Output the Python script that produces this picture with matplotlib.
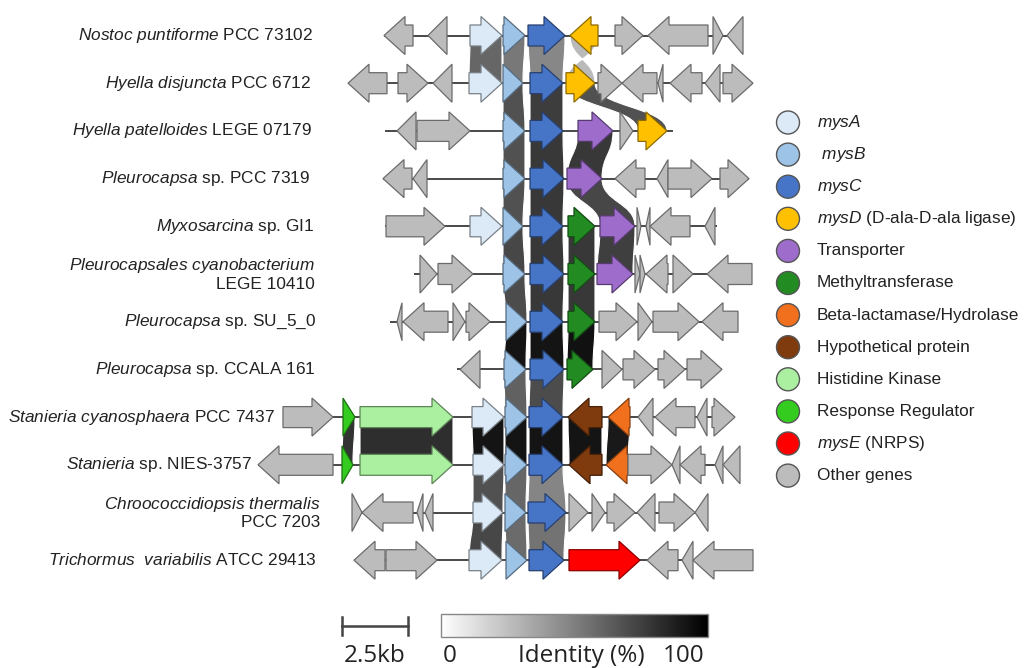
import numpy as np
import matplotlib
matplotlib.use("Agg")
import matplotlib.pyplot as plt
from matplotlib.patches import Polygon, PathPatch, Circle, Rectangle
from matplotlib.path import Path
from matplotlib.colors import LinearSegmentedColormap, to_rgb

plt.rcParams['font.family'] = ['Liberation Sans', 'DejaVu Sans']
plt.rcParams['mathtext.fontset'] = 'custom'
plt.rcParams['mathtext.rm'] = 'Liberation Sans'
plt.rcParams['mathtext.it'] = 'Liberation Sans:italic'

# species names (italic part in mathtext)
species = [
    r"$\mathit{Nostoc\ puntiforme}$ PCC 73102",
    r"$\mathit{Hyella\ disjuncta}$ PCC 6712",
    r"$\mathit{Hyella\ patelloides}$ LEGE 07179",
    r"$\mathit{Pleurocapsa}$ sp. PCC 7319",
    r"$\mathit{Myxosarcina}$ sp. GI1",
    r"$\mathit{Pleurocapsales\ cyanobacterium}$" + "\nLEGE 10410",
    r"$\mathit{Pleurocapsa}$ sp. SU_5_0",
    r"$\mathit{Pleurocapsa}$ sp. CCALA 161",
    r"$\mathit{Stanieria\ cyanosphaera}$ PCC 7437",
    r"$\mathit{Stanieria}$ sp. NIES-3757",
    r"$\mathit{Chroococcidiopsis\ thermalis}$" + "\nPCC 7203",
    r"$\mathit{Trichormus\ \ variabilis}$ ATCC 29413",
]
label_right = [313, 311, 312, 310, 315, 315, 316, 316, 275, 252, 320, 317]

# track extents per row (drawing units, 2.5 kb = 66 units)
tracks = [(384, 743), (348, 753), (385, 673), (383, 749), (385, 717), (414, 752),
          (390, 738), (457, 722), (283, 735), (258, 740), (352, 708), (354, 753)]

# genes per row: (start, end, strand, category)
genes = [
    [(384, 413, -1, 'O'), (428, 447, -1, 'O'), (470, 502, 1, 'A'), (503, 525, 1, 'B'),
     (528, 565, 1, 'C'), (570, 598, -1, 'D'), (615, 643, 1, 'O'), (648, 708, -1, 'O'),
     (713, 723, 1, 'O'), (727, 743, -1, 'O')],
    [(348, 387, -1, 'O'), (398, 428, 1, 'O'), (433, 452, -1, 'O'), (469, 502, 1, 'A'),
     (503, 523, 1, 'B'), (530, 563, 1, 'C'), (566, 595, 1, 'D'), (598, 622, 1, 'O'),
     (622, 657, -1, 'O'), (658, 663, -1, 'O'), (670, 702, -1, 'O'), (705, 720, -1, 'O'),
     (723, 753, 1, 'O')],
    [(397, 416, -1, 'O'), (417, 470, 1, 'O'), (503, 525, 1, 'B'), (530, 563, 1, 'C'),
     (578, 613, 1, 'T'), (620, 633, 1, 'O'), (638, 667, 1, 'D')],
    [(383, 412, -1, 'O'), (413, 427, -1, 'O'), (503, 525, 1, 'B'), (530, 564, 1, 'C'),
     (567, 602, 1, 'T'), (615, 645, -1, 'O'), (657, 668, -1, 'O'), (668, 712, 1, 'O'),
     (720, 749, 1, 'O')],
    [(386, 445, 1, 'O'), (470, 502, 1, 'A'), (503, 523, 1, 'B'), (530, 563, 1, 'C'),
     (568, 595, 1, 'M'), (600, 635, 1, 'T'), (637, 641, 1, 'O'), (646, 650, -1, 'O'),
     (650, 690, -1, 'O'), (705, 715, -1, 'O')],
    [(420, 437, 1, 'O'), (438, 473, 1, 'O'), (503, 525, 1, 'B'), (530, 564, 1, 'C'),
     (568, 595, 1, 'M'), (597, 633, 1, 'T'), (635, 640, 1, 'O'), (640, 645, 1, 'O'),
     (646, 668, -1, 'O'), (673, 693, 1, 'O'), (707, 752, -1, 'O')],
    [(397, 402, -1, 'O'), (403, 448, -1, 'O'), (453, 465, 1, 'O'), (466, 490, 1, 'O'),
     (506, 527, 1, 'B'), (530, 563, 1, 'C'), (568, 595, 1, 'M'), (599, 637, 1, 'O'),
     (638, 652, 1, 'O'), (653, 699, 1, 'O'), (702, 738, -1, 'O')],
    [(460, 480, -1, 'O'), (504, 526, 1, 'B'), (530, 564, 1, 'C'), (567, 593, 1, 'M'),
     (602, 622, 1, 'O'), (623, 655, 1, 'O'), (658, 685, 1, 'O'), (687, 722, 1, 'O')],
    [(283, 333, 1, 'O'), (343, 355, 1, 'RR'), (360, 453, 1, 'HK'), (472, 504, 1, 'A'),
     (505, 527, 1, 'B'), (529, 563, 1, 'C'), (568, 602, -1, 'H'), (608, 630, -1, 'BL'),
     (638, 653, -1, 'O'), (655, 695, -1, 'O'), (697, 707, -1, 'O'), (712, 735, 1, 'O')],
    [(258, 333, -1, 'O'), (342, 353, 1, 'RR'), (360, 453, 1, 'HK'), (473, 504, 1, 'A'),
     (505, 527, 1, 'B'), (529, 563, 1, 'C'), (569, 602, -1, 'H'), (606, 628, -1, 'BL'),
     (628, 672, 1, 'O'), (672, 680, -1, 'O'), (680, 705, -1, 'O'), (715, 723, -1, 'O'),
     (723, 740, -1, 'O')],
    [(352, 362, 1, 'O'), (362, 413, -1, 'O'), (417, 423, -1, 'O'), (425, 433, -1, 'O'),
     (473, 503, 1, 'A'), (505, 526, 1, 'B'), (528, 566, 1, 'C'), (569, 588, 1, 'O'),
     (592, 605, 1, 'O'), (607, 635, 1, 'O'), (637, 655, -1, 'O'), (659, 695, 1, 'O'),
     (695, 708, -1, 'O')],
    [(354, 385, -1, 'O'), (386, 437, 1, 'O'), (469, 502, 1, 'A'), (506, 527, 1, 'B'),
     (529, 564, 1, 'C'), (569, 640, 1, 'E'), (647, 678, -1, 'O'), (682, 693, -1, 'O'),
     (693, 753, -1, 'O')],
]

# links between row i and row i+1: (upper row, category, identity %)
links = [
    (0, 'A', 60), (0, 'B', 53), (0, 'C', 47), (0, 'D', 27),
    (1, 'B', 68), (1, 'C', 76), (1, 'D', 68),
    (2, 'B', 68), (2, 'C', 78), (2, 'T', 78),
    (3, 'B', 68), (3, 'C', 78), (3, 'T', 72),
    (4, 'B', 72), (4, 'C', 78), (4, 'M', 78), (4, 'T', 75),
    (5, 'B', 70), (5, 'C', 78), (5, 'M', 78),
    (6, 'B', 92), (6, 'C', 92), (6, 'M', 93),
    (7, 'B', 62), (7, 'C', 70),
    (8, 'RR', 80), (8, 'HK', 82), (8, 'A', 92), (8, 'B', 92), (8, 'C', 92),
    (8, 'H', 92), (8, 'BL', 90),
    (9, 'A', 68), (9, 'B', 60), (9, 'C', 48),
    (10, 'A', 72), (10, 'B', 58), (10, 'C', 55),
]

categories = ['A', 'B', 'C', 'D', 'T', 'M', 'BL', 'H', 'HK', 'RR', 'E', 'O']
cat_colors = ['#dce9f6', '#9dc3e6', '#4675c8', '#ffc000', '#9e6ccb', '#228b22',
              '#f0701e', '#7f3b0e', '#aaf0a0', '#33cc1f', '#ff0000', '#bcbcbc']
legend_labels = [r"$\mathit{mysA}$", r" $\mathit{mysB}$", r"$\mathit{mysC}$",
                 r"$\mathit{mysD}$ (D-ala-D-ala ligase)", "Transporter",
                 "Methyltransferase", "Beta-lactamase/Hydrolase", "Hypothetical protein",
                 "Histidine Kinase", "Response Regulator", r"$\mathit{mysE}$ (NRPS)",
                 "Other genes"]
color_of = dict(zip(categories, cat_colors))

scale_kb = 2.5
units_per_kb = 66 / 2.5

ROW0, ROWSTEP = 35.5, 47.7
HALF, BODY, HEAD = 19, 10.5, 21

cmap = LinearSegmentedColormap.from_list('ident', ['#ffffff', '#000000'])
small_font = ['Open Sans', 'DejaVu Sans']


def edge_of(cat):
    if cat == 'O':
        return '#6b6b6b'
    r, g, b = to_rgb(color_of[cat])
    return (r * 0.55, g * 0.55, b * 0.55)


def arrow_pts(start, end, strand, y):
    h = min(HEAD, end - start)
    if strand > 0:
        b = end - h
        return [(start, y - BODY), (b, y - BODY), (b, y - HALF), (end, y),
                (b, y + HALF), (b, y + BODY), (start, y + BODY)]
    b = start + h
    return [(end, y - BODY), (b, y - BODY), (b, y - HALF), (start, y),
            (b, y + HALF), (b, y + BODY), (end, y + BODY)]


def find_gene(row, cat):
    for g in genes[row]:
        if g[3] == cat:
            return g


fig = plt.figure(figsize=(10.31, 6.68), dpi=100)
ax = fig.add_axes([0, 0, 1, 1])
ax.set_axis_off()

row_y = [ROW0 + i * ROWSTEP for i in range(len(genes))]

# links
for row, cat, ident in links:
    a0, a1, s1, _ = find_gene(row, cat)
    b0, b1, s2, _ = find_gene(row + 1, cat)
    if s1 != s2:
        b0, b1 = b1, b0
    y1, y2 = row_y[row], row_y[row + 1]
    ym = (y1 + y2) / 2
    verts = [(a0, y1), (a1, y1), (a1, ym), (b1, ym), (b1, y2), (b0, y2),
             (b0, ym), (a0, ym), (a0, y1), (a0, y1)]
    codes = [Path.MOVETO, Path.LINETO, Path.CURVE4, Path.CURVE4, Path.CURVE4,
             Path.LINETO, Path.CURVE4, Path.CURVE4, Path.CURVE4, Path.CLOSEPOLY]
    ax.add_patch(PathPatch(Path(verts, codes), facecolor=cmap(ident / 100),
                           edgecolor='white', lw=0.8, zorder=1))

# tracks and genes
for i, row in enumerate(genes):
    y = row_y[i]
    ax.plot(tracks[i], [y, y], color='#3a3a3a', lw=1.3, zorder=2,
            solid_capstyle='butt')
    for start, end, strand, cat in row:
        ax.add_patch(Polygon(arrow_pts(start, end, strand, y), closed=True,
                             facecolor=color_of[cat], edgecolor=edge_of(cat),
                             lw=0.9, zorder=3))
    ax.text(label_right[i], y, species[i], ha='right', va='center',
            multialignment='right', fontsize=12.4, color='#222222',
            linespacing=1.1)

# legend
for i, (cat, lab) in enumerate(zip(categories, legend_labels)):
    ly = 122.5 + i * 32.1
    ax.add_patch(Circle((788, ly), 11.5, facecolor=color_of[cat],
                        edgecolor='#555555', lw=1.0, zorder=3))
    ax.text(817, ly, lab, ha='left', va='center', fontsize=12.4, color='#222222')

# scale bar
sx0 = 342
sx1 = sx0 + scale_kb * units_per_kb
ax.plot([sx0, sx1], [626, 626], color='#444444', lw=1.8)
ax.plot([sx0, sx0], [617, 635], color='#444444', lw=1.8)
ax.plot([sx1, sx1], [617, 635], color='#444444', lw=1.8)
ax.text((sx0 + sx1) / 2, 656, f"{scale_kb}kb", ha='center', va='center',
        fontsize=17.5, family=small_font, color='#222222')

# identity colour bar
grad = np.linspace(0, 100, 256)[None, :]
ax.imshow(grad, extent=(441, 708, 637, 614), cmap=cmap, vmin=0, vmax=100,
          aspect='auto', zorder=2)
ax.add_patch(Rectangle((441, 614), 267, 23, fill=False, edgecolor='#888888',
                       lw=1.0, zorder=3))
ax.text(450, 656, "0", ha='center', va='center', fontsize=17.5,
        family=small_font, color='#222222')
ax.text(581, 656, "Identity (%)", ha='center', va='center', fontsize=17.5,
        family=small_font, color='#222222')
ax.text(684, 656, "100", ha='center', va='center', fontsize=17.5,
        family=small_font, color='#222222')

ax.set_xlim(0, 1031)
ax.set_ylim(668, 0)
fig.savefig("out.png", dpi=100, facecolor='white')
